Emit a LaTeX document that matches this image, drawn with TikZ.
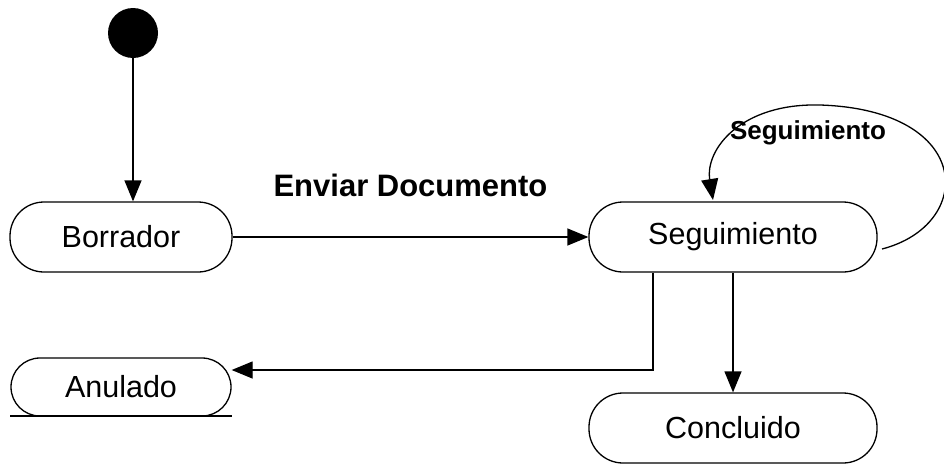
\documentclass[tikz,border=0pt]{standalone}
\usepackage{fontspec}
\setmainfont{Liberation Sans}
\usetikzlibrary{arrows.meta}
\begin{document}
\begin{tikzpicture}[x=1pt,y=-1pt,
  state/.style={draw,line width=1.3pt,rounded corners=34pt,minimum width=#1,minimum height=70pt,inner sep=0pt,font=\fontsize{30.5}{34}\selectfont},
  state/.default=222pt,
  conn/.style={line width=1.3pt,-{Triangle[length=21pt,width=17pt]}},
  lbl/.style={font=\bfseries\fontsize{#1}{34}\selectfont},
]
\useasboundingbox (0,0) rectangle (944,466);
\fill[white] (0,0) rectangle (944,466);
\node[circle,fill=black,minimum size=50pt,inner sep=0pt] (start) at (133,33) {};
\node[state] (borrador) at (121,237) {Borrador};
\node[state=288pt] (seg) at (733,237) {Seguimiento};
\node[state=220pt,minimum height=58pt,rounded corners=29pt] (anulado) at (121,387) {Anulado};
\node[state=288pt] (concluido) at (733,428) {Concluido};
\coordinate (anl) at (10,416);
\coordinate (anr) at (232,416);
\draw[line width=1.3pt] (anl) -- (anr);
\draw[conn] (start) -- (start |- borrador.north);
\draw[conn] (borrador) -- node[lbl=31,above=36pt]{Enviar Documento} (seg);
\draw[conn] (seg.south -| 653,0) |- (anulado.east |- 0,370);
\draw[conn] (seg) -- (concluido);
\coordinate (loopstart) at (882,249);
\draw[conn] (loopstart) .. controls (975,225) and (975,110) .. (820,105) .. controls (740,103) and (705,150) .. (713,200) coordinate (loopend);
\node[lbl=26] (looplbl) at (808,133) {Seguimiento};
\end{tikzpicture}
\end{document}
